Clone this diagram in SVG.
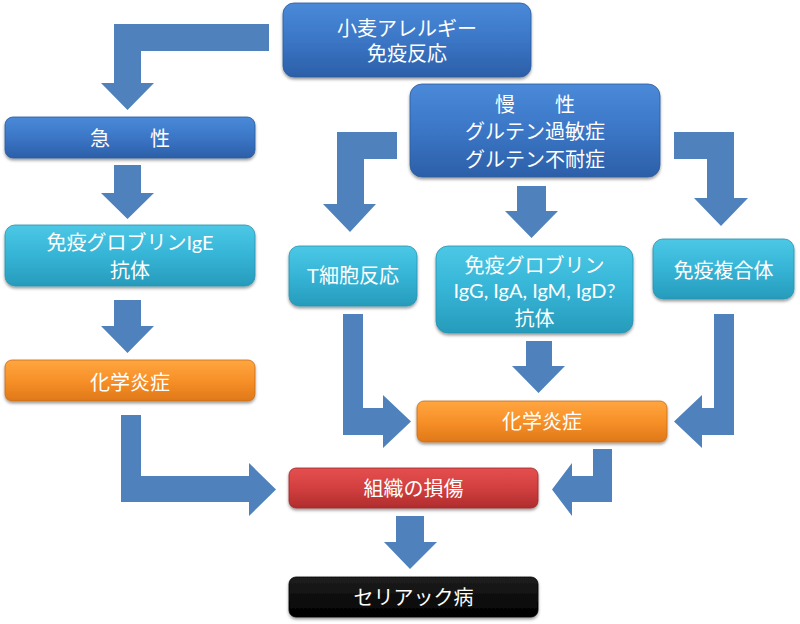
<svg xmlns="http://www.w3.org/2000/svg" width="800" height="624" viewBox="0 0 800 624">
<defs>
<linearGradient id="gBlue" x1="0" y1="0" x2="0" y2="1"><stop offset="0" stop-color="#4a8ad9"/><stop offset="0.5" stop-color="#3b76c6"/><stop offset="1" stop-color="#2c5fa8"/></linearGradient>
<linearGradient id="gCyan" x1="0" y1="0" x2="0" y2="1"><stop offset="0" stop-color="#4cc8e6"/><stop offset="0.5" stop-color="#35b4d6"/><stop offset="1" stop-color="#279bbb"/></linearGradient>
<linearGradient id="gOrange" x1="0" y1="0" x2="0" y2="1"><stop offset="0" stop-color="#ffa640"/><stop offset="0.5" stop-color="#f79028"/><stop offset="1" stop-color="#df7818"/></linearGradient>
<linearGradient id="gRed" x1="0" y1="0" x2="0" y2="1"><stop offset="0" stop-color="#e54f4f"/><stop offset="0.5" stop-color="#d23f3f"/><stop offset="1" stop-color="#b02d2d"/></linearGradient>
<linearGradient id="gBlack" x1="0" y1="0" x2="0" y2="1"><stop offset="0" stop-color="#1e1e1e"/><stop offset="1" stop-color="#000000"/></linearGradient>
<filter id="sh" x="-10%" y="-20%" width="120%" height="150%"><feDropShadow dx="0" dy="2" stdDeviation="1.8" flood-color="#000" flood-opacity="0.4"/></filter>
<style>
.box{filter:url(#sh);}
.blue{fill:url(#gBlue);stroke:#2c5b9c;stroke-width:0.8;}
.cyan{fill:url(#gCyan);stroke:#2a93b0;stroke-width:0.8;}
.orange{fill:url(#gOrange);stroke:#c86c18;stroke-width:0.8;}
.red{fill:url(#gRed);stroke:#9c2a2a;stroke-width:0.8;}
.black{fill:url(#gBlack);stroke:#000;stroke-width:0.8;}
.t{font-family:Lato,"Noto Sans CJK JP",sans-serif;font-size:20px;fill:#fff;text-anchor:middle;}
.arr{fill:#4f81bd;}
</style>
</defs>
<rect width="800" height="624" fill="#fff"/>
<g id="connectors">
<path class="arr" d="M269,24 H114 V83 H101 L127.5,110 L154,83 H141 V51 H269 Z"/>
<path class="arr" d="M114,165 H141 V193 H154 L127.5,219 L101,193 H114 Z"/>
<path class="arr" d="M114,300 H141 V326 H154 L127.5,353 L101,326 H114 Z"/>
<path class="arr" d="M121,415 H141 V476 H249 V463 L276,489.5 L249,516 V502 H121 Z"/>
<path class="arr" d="M397,132 V159 H364 V204 H376 L350,232 L323,204 H337 V132 Z"/>
<path class="arr" d="M517,186 H546 V211 H558 L531.5,238 L505,211 H517 Z"/>
<path class="arr" d="M674,132 H734 V198 H748 L721,226 L694,198 H707 V159 H674 Z"/>
<path class="arr" d="M343,314 H363 V408 H383 V395 L411,421.5 L383,448 V435 H343 Z"/>
<path class="arr" d="M526,341 H552 V366 H565 L538.5,393 L512,366 H526 Z"/>
<path class="arr" d="M714,314 H734 V435 H702 V448 L674,421.5 L702,395 V408 H714 Z"/>
<path class="arr" d="M593,449 H612 V502 H572 V516 L552,489.5 L572,463 V476 H593 Z"/>
<path class="arr" d="M396,516 H424 V542 H437 L410,569 L384,542 H396 Z"/>
</g>
<g id="n-top"><rect class="box blue" x="283" y="3" width="248" height="74" rx="11"/><text class="t" x="407" y="35.5">小麦アレルギー</text><text class="t" x="407" y="60.5">免疫反応</text></g>
<g id="n-acute"><rect class="box blue" x="5" y="117" width="250" height="41" rx="8"/><text class="t" x="130" y="145.5">急　　性</text></g>
<g id="n-chronic"><rect class="box blue" x="410" y="84" width="250" height="93" rx="12"/><text class="t" x="535" y="111.5">慢　　性</text><text class="t" x="535" y="138.5">グルテン過敏症</text><text class="t" x="535" y="166.5">グルテン不耐症</text></g>
<g id="n-ige"><rect class="box cyan" x="5" y="225" width="250" height="61" rx="10"/><text class="t" x="130" y="250">免疫グロブリンIgE</text><text class="t" x="130" y="278">抗体</text></g>
<g id="n-tcell"><rect class="box cyan" x="289" y="246" width="128" height="60" rx="10"/><text class="t" x="353" y="283">T細胞反応</text></g>
<g id="n-igg"><rect class="box cyan" x="436" y="246" width="197" height="87" rx="12"/><text class="t" x="534.5" y="273">免疫グロブリン</text><text class="t" x="534.5" y="298">IgG, IgA, IgM, IgD?</text><text class="t" x="534.5" y="325.5">抗体</text></g>
<g id="n-complex"><rect class="box cyan" x="653" y="239" width="141" height="60" rx="10"/><text class="t" x="723.5" y="278">免疫複合体</text></g>
<g id="n-inflam-left"><rect class="box orange" x="5" y="360" width="250" height="41" rx="7"/><text class="t" x="130" y="389.5">化学炎症</text></g>
<g id="n-inflam-right"><rect class="box orange" x="417" y="401" width="250" height="41" rx="7"/><text class="t" x="542" y="428.5">化学炎症</text></g>
<g id="n-damage"><rect class="box red" x="289" y="468" width="249" height="40" rx="7"/><text class="t" x="413.5" y="496">組織の損傷</text></g>
<g id="n-celiac"><rect class="box black" x="289" y="577" width="249" height="40" rx="7"/><text class="t" x="413.5" y="604.5">セリアック病</text></g>
</svg>
